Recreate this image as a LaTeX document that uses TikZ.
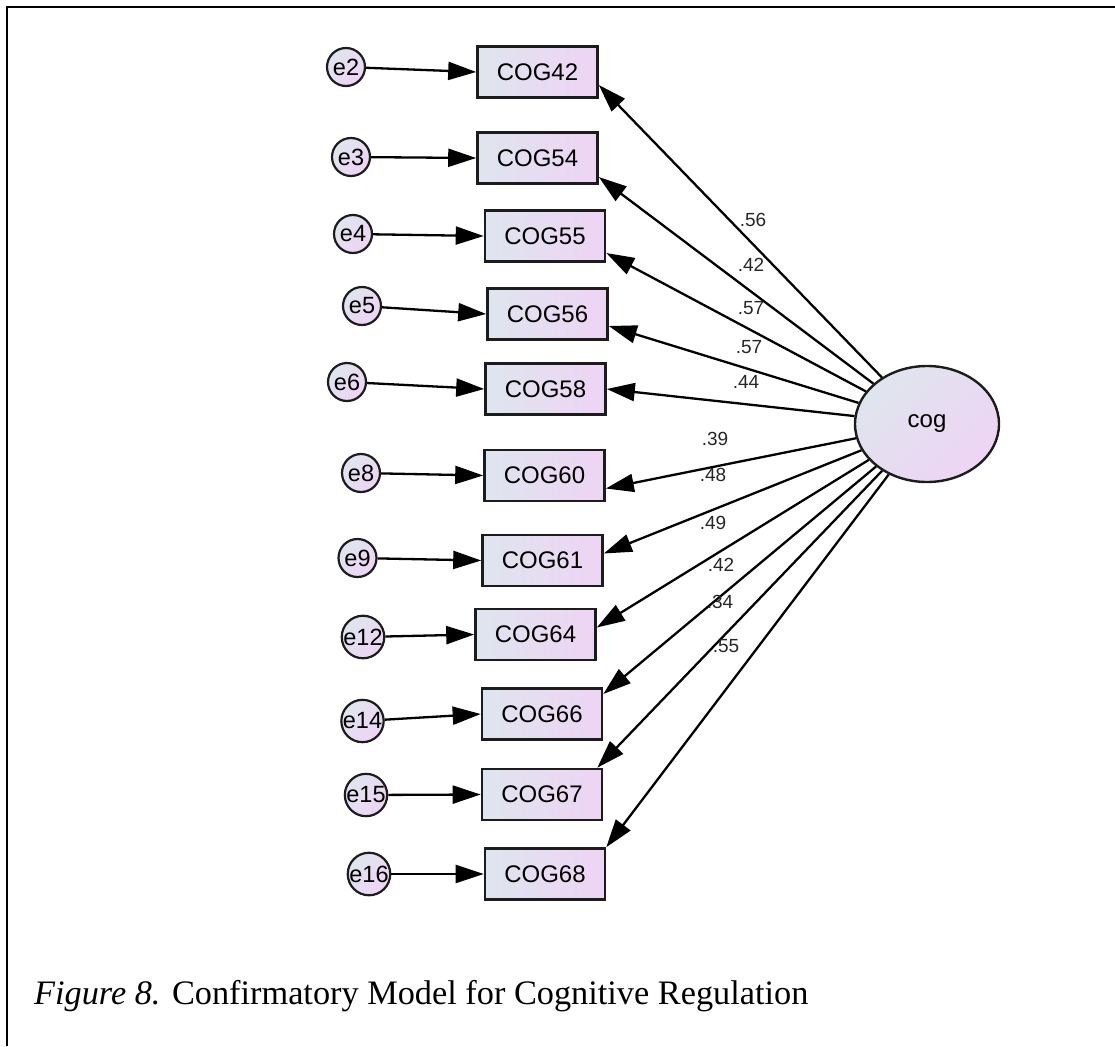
\documentclass[tikz,border=0pt]{standalone}
\usepackage{fontspec}
\setmainfont{Liberation Sans}
\newfontfamily\capfont{Liberation Serif}
\usetikzlibrary{arrows.meta,shapes.geometric,calc}

\definecolor{shadeL}{RGB}{223,229,238}
\definecolor{shadeR}{RGB}{238,212,244}
\definecolor{edgeline}{RGB}{28,28,28}

\begin{document}
\begin{tikzpicture}[x=1pt,y=-1pt,
  observed/.style={draw=edgeline, line width=2.6pt, left color=shadeL, right color=shadeR,
    minimum width=120pt, minimum height=51pt, inner sep=0pt,
    font=\fontsize{24}{26}\selectfont},
  errvar/.style={circle, draw=edgeline, line width=2.2pt, left color=shadeL, right color=shadeR,
    shading angle=45, minimum size=38pt, inner sep=0pt,
    font=\fontsize{23.5}{26}\selectfont},
  latent/.style={ellipse, draw=edgeline, line width=2.4pt, left color=shadeL, right color=shadeR,
    shading angle=45, minimum width=144pt, minimum height=116pt, inner sep=0pt,
    font=\fontsize{24}{26}\selectfont},
  regpath/.style={draw=black, line width=2.3pt, -{Triangle[length=28pt,width=18pt]}},
  coef/.style={font=\fontsize{19}{21}\selectfont, inner sep=0pt, text=black!85}
]
\useasboundingbox (0,0) rectangle (1115,1046);

% page frame
\draw[line width=2.2pt] (7,1046) -- (7,7) -- (1115,7);

% observed indicators
\node[observed] (COG42) at (537.5,72)  {COG42};
\node[observed] (COG54) at (537.5,158) {COG54};
\node[observed] (COG55) at (545,236)   {COG55};
\node[observed] (COG56) at (547.5,314) {COG56};
\node[observed] (COG58) at (545.5,389) {COG58};
\node[observed] (COG60) at (544.5,475.5) {COG60};
\node[observed] (COG61) at (542.5,560.5) {COG61};
\node[observed] (COG64) at (535.5,634.5) {COG64};
\node[observed] (COG66) at (542,714)   {COG66};
\node[observed] (COG67) at (542,794.5) {COG67};
\node[observed] (COG68) at (545,874)   {COG68};

% error terms
\node[errvar] (e2)  at (346,67)  {e2};
\node[errvar] (e3)  at (351,157) {e3};
\node[errvar] (e4)  at (353,234) {e4};
\node[errvar] (e5)  at (362,306) {e5};
\node[errvar] (e6)  at (347,382) {e6};
\node[errvar] (e8)  at (361,473) {e8};
\node[errvar] (e9)  at (357.5,558) {e9};
\node[errvar] (e12) at (363,637) {e12};
\node[errvar] (e14) at (362.5,721) {e14};
\node[errvar] (e15) at (366,795) {e15};
\node[errvar] (e16) at (369,874) {e16};

% latent factor
\node[latent] (cog) at (927,424) {cog};

% error paths
\foreach \e/\o in {e2/COG42,e3/COG54,e4/COG55,e5/COG56,e6/COG58,e8/COG60,
                   e9/COG61,e12/COG64,e14/COG66,e15/COG67,e16/COG68}
  \draw[regpath] (\e) -- (\o.west);

% factor loadings
\draw[regpath] (cog) -- ($(COG42.east)+(0,13)$);
\draw[regpath] (cog) -- ($(COG54.east)+(0,19)$);
\draw[regpath] (cog) -- ($(COG55.east)+(0,17)$);
\draw[regpath] (cog) -- ($(COG56.east)+(0,12)$);
\draw[regpath] (cog) -- (COG58.east);
\draw[regpath] (cog) -- ($(COG60.east)+(0,13)$);
\draw[regpath] (cog) -- ($(COG61.east)+(0,-7)$);
\draw[regpath] (cog) -- ($(COG64.east)+(0,-7)$);
\draw[regpath] (cog) -- ($(COG66.east)+(0,-20)$);
\draw[regpath] (cog) -- ($(COG67.north east)+(-6,0)$);
\draw[regpath] (cog) -- (COG68.north east);

% standardized loadings
\node[coef] (l42) at (753,220) {.56};
\node[coef] (l54) at (751,265) {.42};
\node[coef] (l55) at (751,308) {.57};
\node[coef] (l56) at (749,347) {.57};
\node[coef] (l58) at (746,382) {.44};
\node[coef] (l60) at (715,439) {.39};
\node[coef] (l61) at (713,475) {.48};
\node[coef] (l64) at (713,523) {.49};
\node[coef] (l66) at (721,565) {.42};
\node[coef] (l67) at (720,602) {.34};
\node[coef] (l68) at (726,646) {.55};

% caption
\node[anchor=base west, inner sep=0pt, font=\capfont\fontsize{34.3}{40}\selectfont] (caption)
  at (34,1004) {\textit{Figure 8.} Confirmatory Model for Cognitive Regulation};
\end{tikzpicture}
\end{document}
